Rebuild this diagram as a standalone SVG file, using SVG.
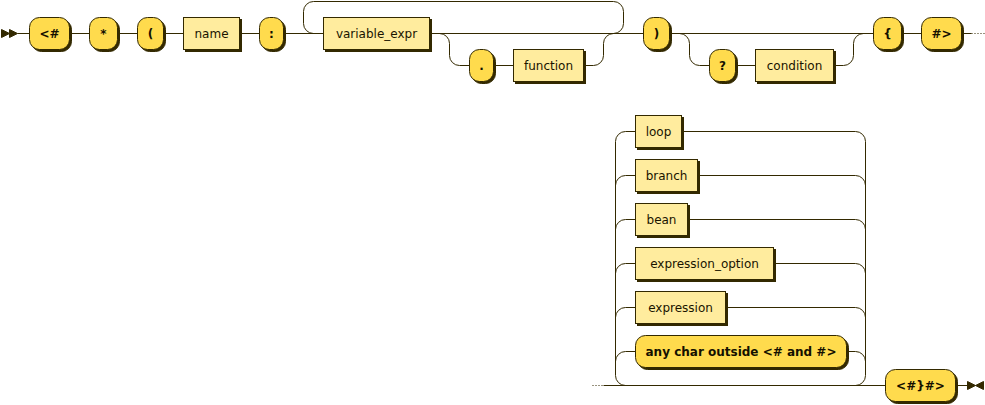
<svg xmlns="http://www.w3.org/2000/svg" width="985" height="405" viewBox="0 0 985 405">
<style>
.line{fill:none;stroke:#332900;stroke-width:1}
.dot{fill:none;stroke:#332900;stroke-width:1;stroke-dasharray:1 2}
.shadow{fill:#332900;stroke:#332900}
.arrow{fill:#332900;stroke:#332900;stroke-width:1}
rect.terminal{fill:#FFDB4D;stroke:#332900;stroke-width:1}
rect.nonterminal{fill:#FFEC9E;stroke:#332900;stroke-width:1}
text{font-family:"DejaVu Sans","Liberation Sans",sans-serif;font-size:12px;text-anchor:middle}
text.terminal{fill:#141000;font-weight:bold}
text.nonterminal{fill:#1A1400;font-weight:normal}
</style>
<rect x="0" y="0" width="985" height="405" fill="#ffffff"/>
<g transform="translate(0.5 0.5)">
<g id="connectors">
<polygon class="arrow" points="9 33 1 29 1 37"/>
<polygon class="arrow" points="17 33 9 29 9 37"/>
<path class="line" d="M17 33 H29 M69 33 H89 M117 33 H137 M163 33 H183 M239 33 H259 M283 33 H323 M429 33 H643"/>
<path class="line" d="M313 33 A10 10 0 0 1 303 23 V11 A10 10 0 0 1 313 1 H613 A10 10 0 0 1 623 11 V23 A10 10 0 0 1 613 33"/>
<path class="line" d="M439 33 A10 10 0 0 1 449 43 V55 A10 10 0 0 0 459 65 H469 M493 65 H513 M583 65 H593 A10 10 0 0 0 603 55 V43 A10 10 0 0 1 613 33"/>
<path class="line" d="M669 33 H873"/>
<path class="line" d="M679 33 A10 10 0 0 1 689 43 V55 A10 10 0 0 0 699 65 H709 M735 65 H755 M833 65 H843 A10 10 0 0 0 853 55 V43 A10 10 0 0 1 863 33"/>
<path class="line" d="M901 33 H921 M961 33 H971"/>
<path class="dot" d="M971 33 H984"/>
<path class="dot" d="M592 385 H603"/>
<path class="line" d="M603 385 H885"/>
<path class="line" d="M615 141 V375 A10 10 0 0 0 625 385"/>
<path class="line" d="M865 141 V375 A10 10 0 0 1 855 385"/>
<path class="line" d="M615 141 A10 10 0 0 1 625 131 H635 M681 131 H855 A10 10 0 0 1 865 141"/>
<path class="line" d="M615 185 A10 10 0 0 1 625 175 H635 M697 175 H855 A10 10 0 0 1 865 185"/>
<path class="line" d="M615 229 A10 10 0 0 1 625 219 H635 M687 219 H855 A10 10 0 0 1 865 229"/>
<path class="line" d="M615 273 A10 10 0 0 1 625 263 H635 M773 263 H855 A10 10 0 0 1 865 273"/>
<path class="line" d="M615 317 A10 10 0 0 1 625 307 H635 M725 307 H855 A10 10 0 0 1 865 317"/>
<path class="line" d="M615 361 A10 10 0 0 1 625 351 H635 M846 351 H855 A10 10 0 0 1 865 361"/>
<path class="line" d="M955 385 H967"/>
<polygon class="arrow" points="975 385 983 381 983 389"/>
<polygon class="arrow" points="975 385 967 381 967 389"/>
</g>
<g id="t_open"><rect class="shadow" x="31" y="19" width="40" height="32" rx="10"/><rect class="terminal" x="29" y="17" width="40" height="32" rx="10"/><text class="terminal" x="49" y="37">&lt;#</text></g>
<g id="t_star"><rect class="shadow" x="91" y="19" width="28" height="32" rx="10"/><rect class="terminal" x="89" y="17" width="28" height="32" rx="10"/><text class="terminal" x="103" y="37">*</text></g>
<g id="t_lparen"><rect class="shadow" x="139" y="19" width="26" height="32" rx="10"/><rect class="terminal" x="137" y="17" width="26" height="32" rx="10"/><text class="terminal" x="150" y="37">(</text></g>
<g id="n_name"><rect class="shadow" x="185" y="19" width="56" height="32"/><rect class="nonterminal" x="183" y="17" width="56" height="32"/><text class="nonterminal" x="211" y="37">name</text></g>
<g id="t_colon"><rect class="shadow" x="261" y="19" width="24" height="32" rx="10"/><rect class="terminal" x="259" y="17" width="24" height="32" rx="10"/><text class="terminal" x="271" y="37">:</text></g>
<g id="n_variable_expr"><rect class="shadow" x="325" y="19" width="106" height="32"/><rect class="nonterminal" x="323" y="17" width="106" height="32"/><text class="nonterminal" x="376" y="37">variable_expr</text></g>
<g id="t_dot"><rect class="shadow" x="471" y="51" width="24" height="32" rx="10"/><rect class="terminal" x="469" y="49" width="24" height="32" rx="10"/><text class="terminal" x="481" y="69">.</text></g>
<g id="n_function"><rect class="shadow" x="515" y="51" width="70" height="32"/><rect class="nonterminal" x="513" y="49" width="70" height="32"/><text class="nonterminal" x="548" y="69">function</text></g>
<g id="t_rparen"><rect class="shadow" x="645" y="19" width="26" height="32" rx="10"/><rect class="terminal" x="643" y="17" width="26" height="32" rx="10"/><text class="terminal" x="656" y="37">)</text></g>
<g id="t_question"><rect class="shadow" x="711" y="51" width="26" height="32" rx="10"/><rect class="terminal" x="709" y="49" width="26" height="32" rx="10"/><text class="terminal" x="722" y="69">?</text></g>
<g id="n_condition"><rect class="shadow" x="757" y="51" width="78" height="32"/><rect class="nonterminal" x="755" y="49" width="78" height="32"/><text class="nonterminal" x="794" y="69">condition</text></g>
<g id="t_lbrace"><rect class="shadow" x="875" y="19" width="28" height="32" rx="10"/><rect class="terminal" x="873" y="17" width="28" height="32" rx="10"/><text class="terminal" x="887" y="37">{</text></g>
<g id="t_close"><rect class="shadow" x="923" y="19" width="40" height="32" rx="10"/><rect class="terminal" x="921" y="17" width="40" height="32" rx="10"/><text class="terminal" x="941" y="37">#&gt;</text></g>
<g id="n_loop"><rect class="shadow" x="637" y="117" width="46" height="32"/><rect class="nonterminal" x="635" y="115" width="46" height="32"/><text class="nonterminal" x="658" y="135">loop</text></g>
<g id="n_branch"><rect class="shadow" x="637" y="161" width="62" height="32"/><rect class="nonterminal" x="635" y="159" width="62" height="32"/><text class="nonterminal" x="666" y="179">branch</text></g>
<g id="n_bean"><rect class="shadow" x="637" y="205" width="52" height="32"/><rect class="nonterminal" x="635" y="203" width="52" height="32"/><text class="nonterminal" x="661" y="223">bean</text></g>
<g id="n_expression_option"><rect class="shadow" x="637" y="249" width="138" height="32"/><rect class="nonterminal" x="635" y="247" width="138" height="32"/><text class="nonterminal" x="704" y="267">expression_option</text></g>
<g id="n_expression"><rect class="shadow" x="637" y="293" width="90" height="32"/><rect class="nonterminal" x="635" y="291" width="90" height="32"/><text class="nonterminal" x="680" y="311">expression</text></g>
<g id="t_anychar"><rect class="shadow" x="637" y="337" width="211" height="32" rx="10"/><rect class="terminal" x="635" y="335" width="211" height="32" rx="10"/><text class="terminal" x="740.5" y="355">any char outside &lt;# and #&gt;</text></g>
<g id="t_end"><rect class="shadow" x="887" y="371" width="70" height="32" rx="10"/><rect class="terminal" x="885" y="369" width="70" height="32" rx="10"/><text class="terminal" x="920" y="389">&lt;#}#&gt;</text></g>
</g>
</svg>
